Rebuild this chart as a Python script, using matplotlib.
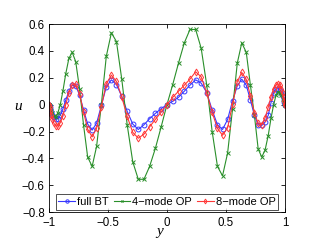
import matplotlib
matplotlib.use("Agg")
import matplotlib.pyplot as plt

# grid points (Chebyshev-like)
y_pts = [-1.000, -0.999, -0.995, -0.989, -0.981, -0.970, -0.957, -0.942, -0.924, -0.904,
         -0.882, -0.858, -0.831, -0.803, -0.773, -0.741, -0.707, -0.672, -0.634, -0.596,
         -0.556, -0.514, -0.471, -0.428, -0.383, -0.337, -0.290, -0.243, -0.195, -0.147,
         -0.098, -0.049, 0.000, 0.049, 0.098, 0.147, 0.195, 0.243, 0.290, 0.337,
         0.383, 0.428, 0.471, 0.514, 0.556, 0.596, 0.634, 0.672, 0.707, 0.741,
         0.773, 0.803, 0.831, 0.858, 0.882, 0.904, 0.924, 0.942, 0.957, 0.970,
         0.981, 0.989, 0.995, 0.999, 1.000]

u_full_bt = [0, -0.003, -0.015, -0.032, -0.052, -0.075, -0.095, -0.108, -0.105, -0.08,
             -0.033, 0.033, 0.10, 0.145, 0.14, 0.073, -0.039, -0.144, -0.19, -0.138,
             -0.006, 0.133, 0.185, 0.15, 0.062, -0.05, -0.144, -0.185, -0.15, -0.105,
             -0.065, -0.03, 0, 0.025, 0.055, 0.10, 0.145, 0.185, 0.16, 0.09,
             -0.04, -0.15, -0.185, -0.11, 0.03, 0.14, 0.19, 0.145, 0.035, -0.08,
             -0.15, -0.155, -0.13, -0.08, 0.015, 0.09, 0.115, 0.12, 0.11, 0.09,
             0.065, 0.04, 0.02, 0.005, 0]

u_op4 = [0, -0.003, -0.012, -0.028, -0.045, -0.065, -0.085, -0.09, -0.06, 0.0,
         0.10, 0.228, 0.345, 0.39, 0.32, 0.12, -0.15, -0.39, -0.46, -0.31,
         0.0, 0.36, 0.535, 0.47, 0.19, -0.15, -0.425, -0.556, -0.556, -0.46,
         -0.325, -0.165, 0, 0.15, 0.31, 0.46, 0.56, 0.56, 0.42, 0.146,
         -0.2, -0.46, -0.53, -0.36, -0.03, 0.31, 0.46, 0.39, 0.146, -0.08,
         -0.33, -0.39, -0.34, -0.23, -0.10, 0.0, 0.07, 0.095, 0.09, 0.07,
         0.045, 0.028, 0.012, 0.003, 0]

u_op8 = [0, -0.004, -0.02, -0.045, -0.075, -0.11, -0.14, -0.158, -0.158, -0.135,
         -0.081, 0.0, 0.087, 0.148, 0.154, 0.081, -0.053, -0.183, -0.24, -0.176,
         -0.015, 0.156, 0.22, 0.173, 0.058, -0.088, -0.206, -0.25, -0.22, -0.165,
         -0.11, -0.055, 0, 0.055, 0.10, 0.145, 0.19, 0.245, 0.207, 0.088,
         -0.058, -0.177, -0.228, -0.172, 0.005, 0.172, 0.24, 0.188, 0.066, -0.061,
         -0.14, -0.15, -0.10, -0.02, 0.06, 0.12, 0.148, 0.155, 0.145, 0.12,
         0.085, 0.055, 0.028, 0.006, 0]

xtick_vals = [-1, -0.5, 0, 0.5, 1]
xtick_labels = ["\u22121", "\u22120.5", "0", "0.5", "1"]
ytick_vals = [-0.8, -0.6, -0.4, -0.2, 0, 0.2, 0.4, 0.6]
ytick_labels = ["\u22120.8", "\u22120.6", "\u22120.4", "\u22120.2", "0", "0.2", "0.4", "0.6"]

plt.rcParams['font.family'] = ['Liberation Sans', 'DejaVu Sans']

fig = plt.figure(figsize=(3.22, 2.46), dpi=100)
ax = fig.add_axes([0.152, 0.138, 0.733, 0.764])

ax.plot(y_pts, u_full_bt, color="#3838ff", lw=0.8, marker="o", ms=3.5,
        mfc="none", mew=0.7, label="full BT")
ax.plot(y_pts, u_op4, color="#2a8f2a", lw=0.8, marker="x", ms=2.2,
        mew=0.7, label="4\u2212mode OP")
ax.plot(y_pts, u_op8, color="#ff3838", lw=0.8, marker="d", ms=3.5,
        mfc="none", mew=0.7, label="8\u2212mode OP")

ax.set_xlim(-1, 1)
ax.set_ylim(-0.8, 0.6)
ax.set_xticks(xtick_vals)
ax.set_xticklabels(xtick_labels)
ax.set_yticks(ytick_vals)
ax.set_yticklabels(ytick_labels)
ax.tick_params(direction="in", length=3, width=0.6, labelsize=8.3, top=True, right=True)
ax.tick_params(axis="x", pad=3.5)
ax.tick_params(axis="y", pad=3)
for s in ax.spines.values():
    s.set_linewidth(0.6)

ax.set_xlabel("y", family="Liberation Serif", style="italic", fontsize=11, va="center")
ax.xaxis.set_label_coords(0.47, -0.102)
ax.set_ylabel("u", family="Liberation Serif", style="italic", fontsize=11, rotation=0,
              ha="center", va="center")
ax.yaxis.set_label_coords(-0.129, 0.564)

leg = ax.legend(loc="lower center", ncol=3, fontsize=8, handlelength=1.5,
                handletextpad=0.18, columnspacing=0.45, borderpad=0.25,
                borderaxespad=0.18, markerscale=0.7, fancybox=False, frameon=True)
leg.get_frame().set_edgecolor("black")
leg.get_frame().set_linewidth(0.6)

plt.savefig("out.png", dpi=100)
